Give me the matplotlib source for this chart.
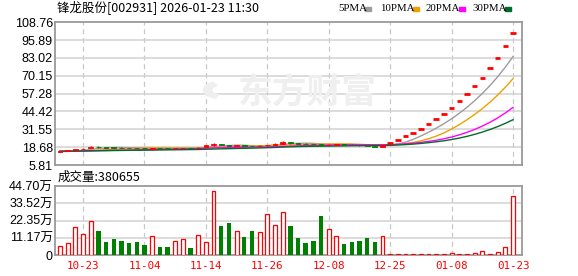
import matplotlib
matplotlib.use('Agg')
import matplotlib.pyplot as plt
import numpy as np
import pandas as pd
from matplotlib.patches import Rectangle, Wedge

plt.rcParams['font.family'] = ['Liberation Sans', 'Noto Sans CJK SC', 'DejaVu Sans']

# ---------------- data ----------------
title = "锋龙股份[002931] 2026-01-23 11:30"
vol_title = "成交量:380655"

tick_idx = [3, 11, 19, 27, 35, 43, 51, 59]
tick_labels = ['10-23', '11-04', '11-14', '11-26', '12-08', '12-25', '01-08', '01-23']

price_ticks = [5.81, 18.68, 31.55, 44.42, 57.28, 70.15, 83.02, 95.89, 108.76]
price_tick_labels = ['5.81', '18.68', '31.55', '44.42', '57.28', '70.15', '83.02', '95.89', '108.76']

vol_ticks = [0, 11.17, 22.35, 33.52, 44.70]
vol_tick_labels = ['0', '11.17万', '22.35万', '33.52万', '44.70万']

# closes before the visible window (for moving averages)
prior_closes = [16.2, 16.0, 15.8, 16.1, 16.3, 16.0, 15.9, 15.7, 15.9, 16.1,
                16.0, 15.8, 15.6, 15.9, 16.0, 15.8, 15.7, 15.9, 16.1, 15.9,
                15.7, 15.6, 15.8, 15.7, 15.5, 15.6, 15.4, 15.5, 15.3]

limit_prices = [21.9, 24.1, 26.5, 29.2, 32.1, 35.3, 38.8, 42.7, 47.0, 51.7,
                56.9, 62.6, 68.8, 75.7, 83.3, 91.6, 100.8]

opens = [15.3, 15.7, 16.5, 17.2, 18.2, 18.9, 18.7, 18.5, 18.4, 18.2,
         18.1, 18.0, 17.7, 18.1, 18.0, 17.8, 17.9, 18.2, 18.0, 18.9,
         19.9, 20.6, 20.0, 19.5, 19.9, 19.7, 19.4, 19.9, 20.5, 21.1,
         22.3, 21.7, 21.3, 21.0, 20.6, 20.2, 20.4, 20.8, 20.5, 20.2,
         20.0, 19.5, 19.1] + limit_prices
closes = [15.6, 16.3, 17.0, 17.6, 18.8, 18.5, 18.4, 18.3, 18.1, 18.0,
          17.9, 17.8, 18.0, 17.9, 17.8, 18.0, 18.1, 18.0, 18.3, 20.0,
          21.0, 20.2, 19.6, 19.9, 19.6, 19.4, 19.8, 20.3, 21.1, 22.6,
          21.8, 21.3, 20.9, 20.6, 20.2, 20.5, 20.8, 20.5, 20.2, 19.9,
          19.7, 19.0, 19.9] + limit_prices
highs = [15.7, 16.4, 17.1, 17.8, 19.6, 19.5, 18.9, 18.7, 18.5, 18.4,
         18.3, 18.1, 18.3, 18.2, 18.1, 18.2, 18.3, 18.3, 18.5, 20.2,
         21.4, 20.8, 20.2, 20.1, 20.1, 19.8, 19.9, 20.5, 21.6, 22.8,
         22.5, 21.9, 21.5, 21.1, 20.8, 20.7, 21.0, 20.9, 20.6, 20.3,
         20.1, 19.6, 20.0] + limit_prices
lows = [15.2, 15.6, 16.4, 17.1, 18.1, 18.3, 18.2, 18.1, 17.9, 17.8,
        17.7, 17.6, 17.6, 17.7, 17.6, 17.7, 17.8, 17.9, 17.9, 18.8,
        19.7, 20.0, 19.5, 19.4, 19.5, 19.2, 19.3, 19.8, 20.4, 21.0,
        21.3, 21.1, 20.8, 20.5, 20.1, 20.1, 20.3, 20.4, 20.1, 19.8,
        19.6, 18.9, 19.0] + limit_prices

volumes = [5.8, 7.8, 18.1, 13.6, 22.0, 15.5, 8.6, 10.4, 9.3, 8.0,
           8.6, 6.5, 12.3, 5.2, 5.2, 9.1, 10.2, 4.5, 12.7, 8.4,
           41.5, 18.8, 20.7, 15.5, 11.7, 15.5, 14.9, 26.6, 19.2, 27.9,
           18.8, 11.0, 8.0, 9.3, 25.5, 16.8, 12.3, 7.3, 8.6, 9.3,
           11.2, 8.6, 12.3, 0.5, 0.4, 0.4, 0.4, 0.4, 0.4, 0.4,
           0.4, 1.2, 0.4, 0.5, 1.1, 2.9, 0.5, 1.8, 4.9, 38.07]

ma_periods = [5, 10, 20, 30]
ma_names = ['5PMA', '10PMA', '20PMA', '30PMA']
ma_colors = ['#9c9c9c', '#f0a000', '#ff00ff', '#006b2d']

# ---------------- figure ----------------
W, H = 578, 276
fig = plt.figure(figsize=(W / 100, H / 100), dpi=100)


def fx(px):
    return px / W


def fy(py):
    return 1 - py / H


L, R = 55, 522
ax = fig.add_axes([fx(L), fy(165), fx(R) - fx(L), fy(22.3) - fy(165)])
axv = fig.add_axes([fx(L), fy(255), fx(R) - fx(L), fy(186) - fy(255)])

RED = '#ff0000'
GREEN = '#008000'
GRID = '#d2d2d2'
SPINE = '#9a9a9a'
WM = '#efefef'

x = np.arange(len(closes))
o = np.array(opens)
c = np.array(closes)
h = np.array(highs)
l = np.array(lows)
v = np.array(volumes)
up = c >= o
flat = c == o

for a in (ax, axv):
    a.set_xlim(-0.65, 60.17)
    for s in a.spines.values():
        s.set_color(SPINE)
        s.set_linewidth(1.3)
    a.set_xticks(tick_idx)
    a.tick_params(length=0)
    for t in tick_idx:
        a.axvline(t, color='#c8c8c8', lw=0.9, ls=(0, (4, 3)), zorder=0.5)

# price axes
ax.set_ylim(price_ticks[0], price_ticks[-1])
ax.set_yticks(price_ticks)
ax.set_yticklabels(price_tick_labels, fontsize=9, family=['Liberation Sans'])
ax.tick_params(axis='y', pad=1.5)
ax.set_xticklabels([])
for t in price_ticks[1:-1]:
    ax.axhline(t, color=GRID, lw=1.1, zorder=0.5)

# watermark
fig.text(fx(307), fy(92), '东方财富', fontsize=25, fontweight='bold', color=WM,
         ha='center', va='center', family=['Noto Sans CJK SC'], zorder=0.8)
fig.patches.append(Wedge((fx(222), fy(90)), 0.032, 120, 250, width=0.014,
                         transform=fig.transFigure, color=WM, zorder=0.8))

# moving averages
series = pd.Series(prior_closes + closes)
for n, col in zip(ma_periods, ma_colors):
    ma = series.rolling(n).mean().values[-len(closes):]
    ax.plot(x, ma, color=col, lw=1.0, zorder=2)

# candles
ccol = np.where(up, RED, GREEN)
nf = ~flat
ax.vlines(x[nf], l[nf], h[nf], colors=ccol[nf], lw=1.0, zorder=3)
ax.bar(x[nf], (c - o)[nf], bottom=o[nf], width=0.62, color=ccol[nf],
       edgecolor=ccol[nf], linewidth=0.6, zorder=3)
ax.hlines(c[flat], x[flat] - 0.36, x[flat] + 0.36, colors=RED, lw=2.0, zorder=3)

# volume axes
axv.set_ylim(0, vol_ticks[-1])
axv.set_yticks(vol_ticks)
axv.set_yticklabels(vol_tick_labels, fontsize=9,
                    family=['Liberation Sans', 'Noto Sans CJK SC'])
axv.tick_params(axis='y', pad=1.5)
axv.set_xticklabels(tick_labels, fontsize=7.8, color=RED, family=['DejaVu Sans Mono'])
axv.tick_params(axis='x', pad=4.5)
for t in vol_ticks[1:-1]:
    axv.axhline(t, color=GRID, lw=1.1, zorder=0.5)

axv.bar(x[up], v[up], width=0.5, facecolor='white', edgecolor=RED, linewidth=0.9, zorder=3)
axv.bar(x[~up], v[~up], width=0.58, color=GREEN, linewidth=0, zorder=3)

# titles
fig.text(fx(57), fy(8), title, fontsize=9, ha='left', va='center',
         family=['Noto Sans CJK SC', 'DejaVu Sans'])
fig.text(fx(58), fy(177.5), vol_title, fontsize=9, ha='left', va='center',
         family=['Noto Sans CJK SC', 'DejaVu Sans'])

# legend
leg_x = [338, 380, 426, 472]
sq_x = [365, 413, 459, 505]
for name, col, tx, sx in zip(ma_names, ma_colors, leg_x, sq_x):
    fig.text(fx(tx), fy(8.5), name, fontsize=7.8, ha='left', va='center',
             family=['Liberation Serif'])
    fig.patches.append(Rectangle((fx(sx), fy(10.5)), fx(6), 4 / H,
                                 transform=fig.transFigure, color=col))

fig.savefig('out.png', dpi=100)
